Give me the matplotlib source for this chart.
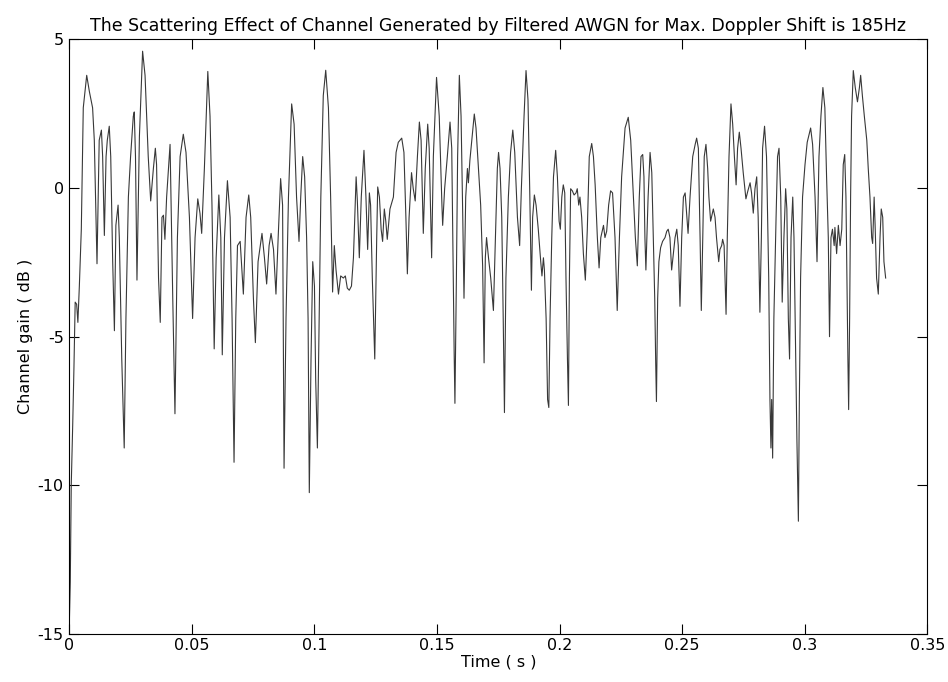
import matplotlib
matplotlib.use("Agg")
import matplotlib.pyplot as plt

plt.rcParams['font.family'] = ['DejaVu Sans']
plt.rcParams['axes.unicode_minus'] = False

title = "The Scattering Effect of Channel Generated by Filtered AWGN for Max. Doppler Shift is 185Hz"
xlabel = "Time ( s )"
ylabel = "Channel gain ( dB )"
xticks = [0, 0.05, 0.1, 0.15, 0.2, 0.25, 0.3, 0.35]
xticklabels = ["0", "0.05", "0.1", "0.15", "0.2", "0.25", "0.3", "0.35"]
yticks = [-15, -10, -5, 0, 5]

time_s = [
    0.0000, 0.0004, 0.0008, 0.0014, 0.0019, 0.0024, 0.0030, 0.0035, 0.0041, 0.0049,
    0.0057, 0.0071, 0.0082, 0.0095, 0.0102, 0.0109, 0.0113, 0.0122, 0.0131, 0.0136,
    0.0143, 0.0150, 0.0155, 0.0163, 0.0169, 0.0177, 0.0184, 0.0190, 0.0199, 0.0204,
    0.0214, 0.0224, 0.0231, 0.0241, 0.0250, 0.0261, 0.0265, 0.0270, 0.0276, 0.0286,
    0.0299, 0.0309, 0.0322, 0.0332, 0.0343, 0.0351, 0.0356, 0.0364, 0.0371, 0.0378,
    0.0384, 0.0390, 0.0397, 0.0411,
    0.0422, 0.0431, 0.0441, 0.0452, 0.0465, 0.0476, 0.0490, 0.0503, 0.0513, 0.0524,
    0.0533, 0.0540, 0.0551, 0.0565, 0.0574, 0.0582, 0.0591, 0.0599, 0.0610, 0.0618,
    0.0624, 0.0633, 0.0645, 0.0656, 0.0664, 0.0672, 0.0679, 0.0686, 0.0697, 0.0702,
    0.0710, 0.0721, 0.0732, 0.0740, 0.0751, 0.0759, 0.0770, 0.0786, 0.0796, 0.0805,
    0.0815, 0.0823, 0.0833, 0.0843, 0.0852, 0.0862, 0.0870,
    0.0876, 0.0884, 0.0894, 0.0907, 0.0917, 0.0927, 0.0937, 0.0944, 0.0952, 0.0960,
    0.0968, 0.0974, 0.0979, 0.0986, 0.0993, 0.1000, 0.1005, 0.1012, 0.1019, 0.1026,
    0.1036, 0.1046, 0.1057, 0.1066, 0.1074, 0.1081, 0.1088, 0.1098, 0.1107, 0.1118,
    0.1126, 0.1134, 0.1142, 0.1151, 0.1159, 0.1170, 0.1175, 0.1183, 0.1191, 0.1202,
    0.1210, 0.1217, 0.1224, 0.1229, 0.1236, 0.1246, 0.1254, 0.1258, 0.1265, 0.1272,
    0.1278, 0.1285, 0.1291, 0.1297, 0.1308,
    0.1322, 0.1333, 0.1342, 0.1356, 0.1365, 0.1373, 0.1379, 0.1386, 0.1396, 0.1403,
    0.1411, 0.1420, 0.1428, 0.1435, 0.1444, 0.1452, 0.1462, 0.1468, 0.1478, 0.1485,
    0.1498, 0.1509, 0.1520, 0.1523, 0.1531, 0.1542, 0.1553, 0.1560, 0.1566, 0.1570,
    0.1573, 0.1579, 0.1584, 0.1591, 0.1598, 0.1605, 0.1610, 0.1617, 0.1624, 0.1628,
    0.1634, 0.1645, 0.1652, 0.1659, 0.1668, 0.1678, 0.1686, 0.1692, 0.1697, 0.1702,
    0.1710, 0.1719, 0.1730, 0.1738, 0.1746, 0.1751, 0.1757, 0.1764, 0.1770, 0.1775,
    0.1781, 0.1791, 0.1800, 0.1809, 0.1817, 0.1828, 0.1837, 0.1844, 0.1855, 0.1863,
    0.1871, 0.1878, 0.1885, 0.1890, 0.1897, 0.1904, 0.1913, 0.1923, 0.1928, 0.1934,
    0.1938, 0.1945, 0.1951, 0.1956, 0.1961, 0.1968, 0.1975, 0.1984, 0.1991, 0.1998,
    0.2003, 0.2009, 0.2015, 0.2021, 0.2026, 0.2032, 0.2036, 0.2040, 0.2045, 0.2052,
    0.2059, 0.2067, 0.2072, 0.2078, 0.2083, 0.2090, 0.2097, 0.2105, 0.2113, 0.2121,
    0.2131, 0.2138, 0.2145, 0.2154, 0.2161, 0.2168, 0.2179, 0.2185, 0.2192, 0.2200,
    0.2208,
    0.2216, 0.2226, 0.2235, 0.2244, 0.2253, 0.2267, 0.2280, 0.2290, 0.2301, 0.2309,
    0.2317, 0.2325, 0.2332, 0.2339, 0.2344, 0.2348, 0.2352, 0.2361, 0.2369, 0.2376,
    0.2382, 0.2388, 0.2392, 0.2395, 0.2400, 0.2405, 0.2412, 0.2420, 0.2430, 0.2437,
    0.2443, 0.2450, 0.2457, 0.2464, 0.2471, 0.2478, 0.2484, 0.2491, 0.2498, 0.2505,
    0.2512, 0.2518, 0.2524, 0.2532, 0.2543, 0.2553, 0.2559, 0.2566, 0.2573, 0.2578,
    0.2584, 0.2590, 0.2597, 0.2604, 0.2609, 0.2616, 0.2627, 0.2634, 0.2640, 0.2649,
    0.2654,
    0.2661, 0.2665, 0.2671, 0.2679, 0.2684, 0.2691, 0.2699, 0.2706, 0.2713, 0.2720,
    0.2726, 0.2733, 0.2740, 0.2749, 0.2760, 0.2768, 0.2777, 0.2783, 0.2790, 0.2797,
    0.2804, 0.2810, 0.2817, 0.2823, 0.2828, 0.2836, 0.2844, 0.2853, 0.2858, 0.2862,
    0.2865, 0.2869, 0.2874, 0.2883, 0.2889, 0.2895, 0.2902, 0.2908, 0.2915, 0.2922,
    0.2927, 0.2933, 0.2938, 0.2944, 0.2951, 0.2956, 0.2963, 0.2968, 0.2974, 0.2978,
    0.2983, 0.2991, 0.3001, 0.3010, 0.3024, 0.3032, 0.3042, 0.3050, 0.3058, 0.3066,
    0.3074, 0.3082, 0.3089, 0.3096, 0.3101, 0.3107, 0.3113, 0.3120,
    0.3123, 0.3130, 0.3137, 0.3144, 0.3151, 0.3157, 0.3163, 0.3168, 0.3174, 0.3176,
    0.3179, 0.3183, 0.3187, 0.3191, 0.3198, 0.3206, 0.3215, 0.3223, 0.3228, 0.3235,
    0.3243, 0.3253, 0.3259, 0.3266, 0.3273, 0.3277, 0.3283, 0.3287, 0.3293, 0.3300,
    0.3307, 0.3312, 0.3318, 0.3323, 0.3330,
]

gain_db = [
    -14.66, -13.23, -9.97, -7.93, -6.02, -3.84, -3.91, -4.52, -3.30, -1.39,
    2.69, 3.78, 3.23, 2.69, 1.60, -0.99, -2.55, 1.60, 1.94, 1.05,
    -1.60, 1.05, 1.60, 2.07, 1.05, -2.48, -4.80, -1.26, -0.58, -1.67,
    -5.75, -8.74, -4.39, -0.31, 1.05, 2.40, 2.55, 1.05, -3.10, 1.73,
    4.59, 3.78, 1.05, -0.44, 0.65, 1.33, 0.78, -3.03, -4.52, -0.99,
    -0.92, -1.73, -0.31, 1.46,
    -3.71, -7.59, -1.67, 1.05, 1.80, 1.19, -0.99, -4.39, -1.67, -0.37,
    -0.85, -1.53, 0.65, 3.91, 2.41, -0.58, -5.41, -2.35, -0.24, -1.67,
    -5.61, -1.67, 0.24, -0.99, -4.39, -9.22, -4.39, -1.94, -1.80, -2.48,
    -3.57, -0.99, -0.24, -0.99, -3.71, -5.20, -2.48, -1.53, -2.35, -3.23,
    -1.94, -1.53, -2.07, -3.57, -1.67, 0.31, -0.58,
    -9.42, -4.39, -0.31, 2.82, 2.14, -0.31, -1.80, -0.31, 1.05, 0.37,
    -1.67, -4.39, -10.24, -5.75, -2.48, -3.30, -6.43, -8.74, -4.39, -0.31,
    3.10, 3.95, 2.69, -0.31, -3.50, -1.94, -2.76, -3.57, -2.96, -3.03,
    -2.96, -3.37, -3.44, -3.30, -2.35, 0.37, -0.44, -2.35, -0.31, 1.26,
    -0.31, -2.07, -0.17, -0.58, -3.03, -5.75, -1.67, 0.03, -0.31, -1.39,
    -1.80, -0.71, -1.12, -1.73, -0.71,
    -0.31, 1.19, 1.53, 1.67, 1.19, -0.99, -2.89, -0.99, 0.51, -0.03,
    -0.44, 1.05, 2.21, 1.60, -1.53, 0.65, 2.14, 1.33, -2.35, 1.05,
    3.71, 2.41, -0.58, -1.26, -0.03, 1.05, 2.21, 1.33, -3.03, -5.61,
    -7.24, -3.03, 1.05, 3.78, 2.41, -0.99, -3.71, -0.31, 0.65, 0.17,
    0.92, 1.87, 2.48, 2.01, 0.78, -0.58, -2.62, -5.88, -2.35, -1.67,
    -2.35, -3.03, -4.12, -1.67, 0.65, 1.19, 0.65, -0.99, -4.39, -7.55,
    -3.03, -0.31, 1.19, 1.94, 1.19, -0.99, -1.94, -0.03, 2.41, 3.94,
    2.96, -0.03, -3.44, -0.99, -0.24, -0.58, -1.39, -2.48, -2.96, -2.35,
    -2.76, -4.39, -7.11, -7.38, -4.39, -1.67, 0.37, 1.26, 0.37, -1.12,
    -1.39, -0.31, 0.10, -0.17, -3.03, -5.75, -7.31, -3.03, -0.03, -0.10,
    -0.24, -0.17, -0.03, -0.58, -0.31, -0.99, -2.21, -3.10, -1.39, 1.05,
    1.49, 1.05, 0.10, -1.67, -2.69, -1.67, -1.26, -1.67, -1.46, -0.58,
    -0.10,
    -0.17, -1.67, -4.12, -1.67, 0.37, 2.01, 2.37, 1.60, -0.31, -1.67,
    -2.62, -0.31, 1.05, 1.12, 0.37, -1.67, -2.76, -0.31, 1.19, 0.51,
    -1.67, -3.71, -5.88, -7.18, -3.71, -2.48, -2.01, -1.80, -1.67, -1.46,
    -1.39, -1.67, -2.76, -2.21, -1.67, -1.39, -1.94, -3.98, -1.67, -0.31,
    -0.17, -0.85, -1.53, -0.31, 1.05, 1.46, 1.67, 1.33, -1.67, -4.12,
    -1.67, 1.05, 1.46, 0.65, -0.31, -1.12, -0.71, -0.99, -1.67, -2.48,
    -2.07,
    -1.94, -1.73, -1.94, -4.25, -1.67, 1.05, 2.82, 2.14, 1.05, 0.10,
    1.33, 1.87, 1.33, 0.51, -0.37, -0.10, 0.17, -0.17, -0.85, -0.03,
    0.37, -0.99, -4.18, -1.67, 1.33, 2.07, 1.05, -3.03, -7.11, -8.74,
    -7.11, -9.08, -4.39, -0.99, 1.05, 1.33, -0.31, -3.84, -1.67, -0.03,
    -0.71, -4.39, -5.75, -1.67, -0.31, -1.67, -5.75, -8.47, -11.20, -7.11,
    -3.03, -0.31, 0.78, 1.53, 2.01, 1.46, -0.31, -2.48, 1.05, 2.41,
    3.37, 2.69, 0.37, -1.67, -5.00, -1.67, -1.39, -1.94,
    -1.33, -2.21, -1.26, -1.94, -1.39, 0.78, 1.12, -0.31, -4.39, -5.75,
    -7.45, -4.39, -0.31, 2.41, 3.94, 3.37, 2.89, 3.37, 3.78, 3.10,
    2.41, 1.60, 0.65, -0.31, -1.67, -1.87, -0.31, -1.26, -3.03, -3.57,
    -1.67, -0.71, -0.99, -2.48, -3.03,
]

fig = plt.figure(figsize=(9.48, 6.82), dpi=100)
ax = fig.add_axes([0.0731, 0.0699, 0.9051, 0.8729])
ax.plot(time_s, gain_db, color='#383838', linewidth=0.8)

ax.set_xlim(0, 0.35)
ax.set_ylim(-15, 5)
ax.set_xticks(xticks)
ax.set_xticklabels(xticklabels)
ax.set_yticks(yticks)
ax.tick_params(direction='in', length=7, width=0.8, top=True, right=True,
               labelsize=11.5, pad=4, colors='black')
ax.tick_params(axis='x', pad=3)
for s in ax.spines.values():
    s.set_linewidth(0.8)

ax.set_title(title, fontsize=12.5, pad=6)
ax.set_xlabel(xlabel, fontsize=11.5, labelpad=1)
ax.set_ylabel(ylabel, fontsize=11.5, labelpad=3)

fig.savefig("out.png", dpi=100)
